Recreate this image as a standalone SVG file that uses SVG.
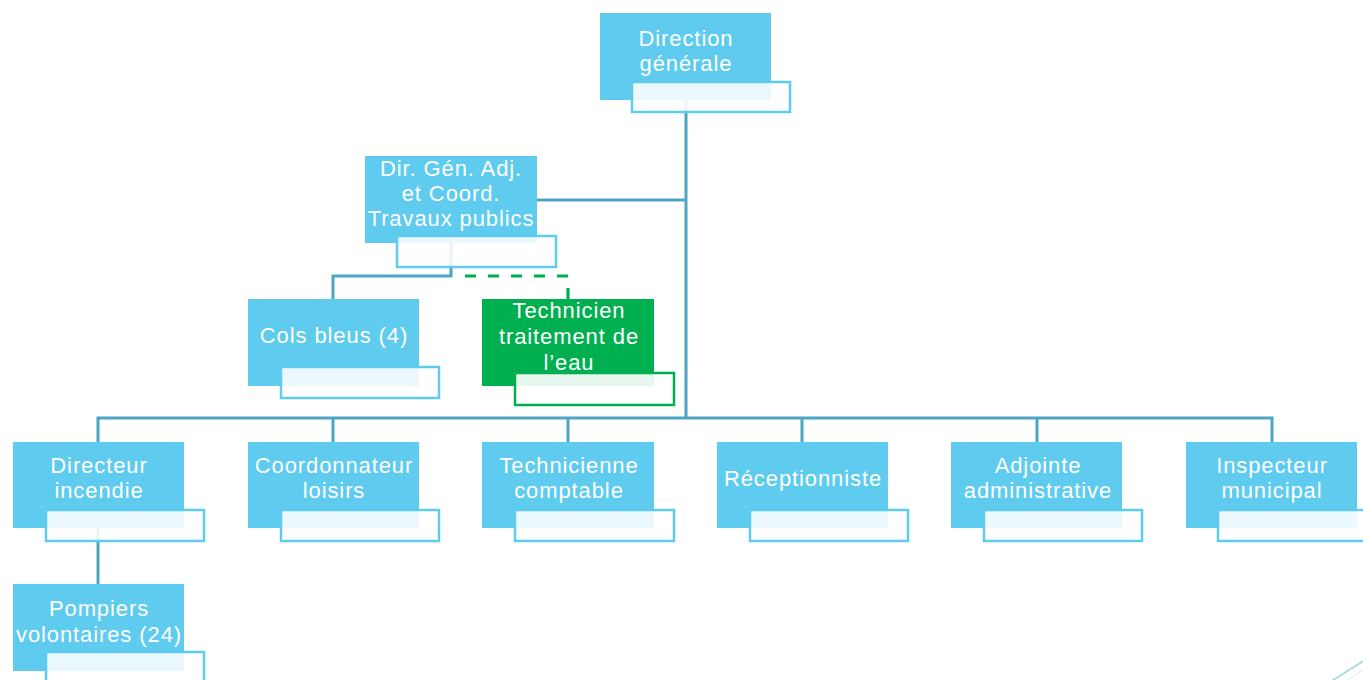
<svg xmlns="http://www.w3.org/2000/svg" width="1363" height="680" viewBox="0 0 1363 680">
<style>
.m{fill:#5ECBEF}
.s{fill:#ffffff;fill-opacity:0.88;stroke:#5ECBEF;stroke-width:2.5}
.mg{fill:#00B050}
.sg{fill:#ffffff;fill-opacity:0.9;stroke:#00B050;stroke-width:2.5}
.c{fill:none;stroke:#4DA5C4;stroke-width:3}
.d{fill:none;stroke:#00B050;stroke-width:3.2;stroke-dasharray:11 12;stroke-dashoffset:12}
text{font-family:"Liberation Sans",Arial,sans-serif;font-size:22px;letter-spacing:0.9px;fill:#ffffff;text-anchor:middle}
</style>
<rect width="1363" height="680" fill="#ffffff"/>
<g id="connectors">
<path class="c" d="M686 100V418"/>
<path class="c" d="M537 200H686"/>
<path class="c" d="M98 442V418H1272V442"/>
<path class="c" d="M333 418V442M568 418V442M802 418V442M1037 418V442"/>
<path class="c" d="M451 243V276H333V299"/>
<path class="d" d="M454 276H568V299"/>
<path class="c" d="M98 528V584"/>
</g>
<g id="n-direction-generale">
<rect class="m" x="600" y="13" width="171" height="87"/>
<rect class="s" x="632" y="82" width="158" height="30"/>
<text x="686" y="46">Direction<tspan x="686" dy="25">générale</tspan></text>
</g>
<g id="n-dir-gen-adj">
<rect class="m" x="365" y="156" width="172" height="87"/>
<rect class="s" x="397" y="236" width="159" height="31"/>
<text x="451" y="176">Dir. Gén. Adj.<tspan x="451" dy="25">et Coord.</tspan><tspan x="451" dy="25">Travaux publics</tspan></text>
</g>
<g id="n-cols-bleus">
<rect class="m" x="248" y="299" width="171" height="87"/>
<rect class="s" x="281" y="367" width="158" height="31"/>
<text x="334" y="343">Cols bleus (4)</text>
</g>
<g id="n-technicien-eau">
<rect class="mg" x="482" y="299" width="172" height="87"/>
<rect class="sg" x="515" y="373" width="159" height="32"/>
<text x="569" y="318">Technicien<tspan x="569" dy="26">traitement de</tspan><tspan x="569" dy="26">l’eau</tspan></text>
</g>
<g id="n-directeur-incendie">
<rect class="m" x="13" y="442" width="171" height="86"/>
<rect class="s" x="46" y="510" width="158" height="31"/>
<text x="99" y="473">Directeur<tspan x="99" dy="25">incendie</tspan></text>
</g>
<g id="n-coordonnateur-loisirs">
<rect class="m" x="248" y="442" width="171" height="86"/>
<rect class="s" x="281" y="510" width="158" height="31"/>
<text x="334" y="473">Coordonnateur<tspan x="334" dy="25">loisirs</tspan></text>
</g>
<g id="n-technicienne-comptable">
<rect class="m" x="482" y="442" width="172" height="86"/>
<rect class="s" x="515" y="510" width="159" height="31"/>
<text x="569" y="473">Technicienne<tspan x="569" dy="25">comptable</tspan></text>
</g>
<g id="n-receptionniste">
<rect class="m" x="717" y="442" width="171" height="86"/>
<rect class="s" x="750" y="510" width="158" height="31"/>
<text x="803" y="486">Réceptionniste</text>
</g>
<g id="n-adjointe-administrative">
<rect class="m" x="951" y="442" width="171" height="86"/>
<rect class="s" x="984" y="510" width="158" height="31"/>
<text x="1038" y="473">Adjointe<tspan x="1038" dy="25">administrative</tspan></text>
</g>
<g id="n-inspecteur-municipal">
<rect class="m" x="1186" y="442" width="171" height="86"/>
<rect class="s" x="1218" y="510" width="158" height="31"/>
<text x="1272" y="473">Inspecteur<tspan x="1272" dy="25">municipal</tspan></text>
</g>
<g id="n-pompiers">
<rect class="m" x="13" y="584" width="171" height="87"/>
<rect class="s" x="46" y="652" width="158" height="32"/>
<text x="99" y="616">Pompiers<tspan x="99" dy="26">volontaires (24)</tspan></text>
</g>
<g id="decor">
<path d="M1330 682L1365 660" stroke="#9fd3e6" stroke-width="1.5" fill="none"/>
<path d="M1345 682L1365 668" stroke="#cfe9f3" stroke-width="1" fill="none"/>
</g>
</svg>
